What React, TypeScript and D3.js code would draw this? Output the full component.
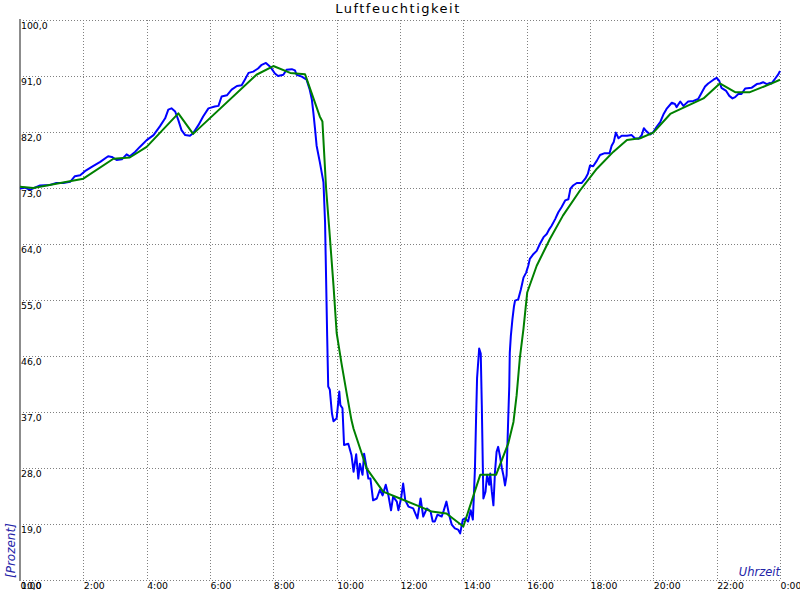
import React from "react";
import * as d3 from "d3";

const title = "Luftfeuchtigkeit";
const yTicks = [10, 19, 28, 37, 46, 55, 64, 73, 82, 91, 100];
const xTickMinutes = [0, 120, 240, 360, 480, 600, 720, 840, 960, 1080, 1200, 1320, 1440];
const xTickLabels = ["0:00", "2:00", "4:00", "6:00", "8:00", "10:00", "12:00", "14:00", "16:00", "18:00", "20:00", "22:00", "0:00"];

// [minute of day, relative humidity %]
const measured: [number, number][] = [
  [0,72.9],[9,73.05],[19,72.7],[28,73.05],[38,73.4],[57,73.5],[69,73.8],[82,73.8],[95,74.0],[104,74.9],
  [114,75.05],[123,75.7],[136,76.4],[152,77.2],[167,78.1],[174,78.0],[183,77.5],[193,77.6],[202,78.4],[208,78.1],
  [218,78.8],[227,79.6],[240,80.7],[253,81.5],[265,82.9],[275,84.2],[281,85.6],[287,85.8],[294,85.3],[300,83.9],
  [306,82.3],[313,81.5],[322,81.4],[328,81.8],[338,83.1],[347,84.5],[357,85.8],[369,86.1],[376,86.2],[382,87.7],
  [392,87.9],[401,88.8],[411,89.4],[420,89.5],[426,90.4],[433,91.5],[442,91.7],[451,92.2],[458,92.8],[466,93.1],
  [474,92.5],[483,91.4],[489,91.0],[499,91.2],[505,92.0],[515,92.1],[521,91.9],[524,91.2],[534,90.9],[543,90.4],
  [549,88.8],[553,87.2],[556,85.0],[559,82.5],[562,79.8],[568,77.2],[575,73.9],[578,67.5],[580,58.3],[582,49.2],
  [584,41.1],[587,40.6],[591,36.8],[594,35.5],[600,36.0],[605,40.3],[607,38.1],[611,37.6],[614,31.7],[622,31.9],
  [628,30.1],[632,27.4],[637,30.2],[641,26.3],[644,28.7],[649,26.9],[652,30.3],[657,27.9],[660,26.3],[664,26.3],
  [669,22.8],[676,23.1],[682,24.5],[687,23.6],[693,25.3],[698,23.6],[703,21.2],[707,23.4],[714,22.6],[717,21.2],
  [722,23.1],[726,25.5],[730,22.8],[736,21.8],[745,21.5],[753,19.9],[759,23.1],[764,20.2],[771,21.5],[778,21.0],
  [782,19.4],[786,19.4],[791,20.5],[799,20.2],[803,21.2],[808,22.6],[813,20.5],[818,18.9],[824,18.3],[830,18.1],
  [834,17.5],[839,19.7],[843,19.9],[849,19.4],[854,21.2],[858,19.7],[860,23.6],[862,27.9],[864,35.4],[866,42.4],
  [870,47.2],[873,46.4],[875,38.1],[877,27.9],[878,23.1],[882,24.2],[885,26.9],[889,25.3],[891,27.1],[894,24.2],
  [897,22.0],[900,27.4],[903,30.6],[906,31.4],[909,30.1],[913,28.0],[916,26.8],[919,25.2],[922,26.8],[923,30.1],
  [925,35.8],[927,41.1],[928,46.5],[930,49.2],[933,51.9],[936,54.0],[938,54.9],[944,55.1],[949,56.7],[954,58.6],
  [959,59.4],[963,60.5],[966,61.6],[973,62.4],[979,62.9],[985,64.0],[992,65.1],[998,65.6],[1003,66.4],[1007,66.9],
  [1014,68.0],[1020,69.1],[1026,69.9],[1033,71.0],[1039,71.2],[1043,72.9],[1048,73.4],[1055,73.8],[1064,73.8],[1071,74.5],
  [1076,75.3],[1080,76.6],[1086,76.5],[1093,77.4],[1099,78.3],[1108,78.6],[1117,78.6],[1121,79.8],[1125,80.4],[1129,81.9],
  [1134,81.0],[1140,81.4],[1150,81.4],[1159,81.5],[1165,81.0],[1172,80.9],[1178,81.5],[1182,82.6],[1187,82.1],[1194,81.6],
  [1200,82.0],[1206,82.8],[1213,83.6],[1219,84.8],[1225,85.7],[1235,86.7],[1241,86.5],[1244,86.0],[1251,86.9],[1257,86.2],
  [1266,86.9],[1276,87.0],[1285,87.3],[1292,88.4],[1298,89.3],[1304,89.8],[1314,90.4],[1320,90.7],[1325,90.2],[1329,89.1],
  [1338,88.6],[1344,87.8],[1350,87.4],[1355,87.6],[1361,88.1],[1367,88.1],[1374,89.0],[1386,89.1],[1396,89.7],[1402,89.8],
  [1408,90.0],[1415,89.7],[1421,89.9],[1424,89.8],[1431,90.6],[1437,91.3],[1440,91.8],
];

const smoothed: [number, number][] = [
  [0,73.2],[25,73.0],[120,74.5],[177,77.7],[208,77.9],[240,79.6],[300,85.0],[328,81.7],[448,91.2],[480,92.6],
  [512,91.5],[540,91.3],[568,84.5],[573,83.7],[580,72.9],[586,66.4],[594,57.3],[600,49.7],[609,44.9],[619,40.0],
  [628,35.7],[632,34.3],[657,27.9],[688,24.2],[720,23.1],[752,22.0],[780,21.0],[808,20.7],[840,18.6],[872,26.9],
  [902,26.9],[925,31.9],[935,35.4],[941,39.7],[947,45.6],[954,50.4],[961,56.2],[979,60.5],[1004,64.8],[1029,68.6],
  [1061,72.6],[1093,76.1],[1124,78.8],[1150,80.7],[1175,81.0],[1200,81.9],[1232,84.9],[1244,85.4],[1295,87.4],[1326,89.8],
  [1355,88.4],[1383,88.4],[1421,89.7],[1440,90.4],
];

const W = 800, H = 600;
const L = 20, R = 780, T = 20, B = 580;
const font = "'DejaVu Sans', sans-serif";

export default function App() {
  const x = d3.scaleLinear().domain([0, 1440]).range([L, R]);
  const y = d3.scaleLinear().domain([10, 100]).range([B, T]);
  const line = d3.line<[number, number]>().x(d => x(d[0])).y(d => y(d[1]));
  const px = (v: number) => Math.round(v) + 0.5;

  return (
    <svg width={W} height={H} style={{ position: "absolute", left: 0, top: 0, background: "#fff" }}>
      <rect x={0} y={0} width={W} height={H} fill="#fff" />
      {yTicks.map(t => (
        <line key={"h" + t} x1={L} x2={R} y1={px(y(t))} y2={px(y(t))} stroke="#808080" strokeWidth={1} strokeDasharray="1,2" shapeRendering="crispEdges" />
      ))}
      {xTickMinutes.slice(1).map(m => (
        <line key={"v" + m} x1={px(x(m))} x2={px(x(m))} y1={T} y2={B} stroke="#808080" strokeWidth={1} strokeDasharray="1,2" shapeRendering="crispEdges" />
      ))}
      <line x1={L} x2={L} y1={T - 1} y2={B + 1} stroke="#8c8c8c" strokeWidth={2} shapeRendering="crispEdges" />
      <path d={line(measured) || ""} fill="none" stroke="#0000ff" strokeWidth={2} strokeLinejoin="round" />
      <path d={line(smoothed) || ""} fill="none" stroke="#008000" strokeWidth={2} strokeLinejoin="round" />
      {yTicks.map(t => (
        <text key={"yl" + t} x={L + 1} y={y(t) + 9} fontFamily={font} fontSize={9.3} fill="#000">
          {t.toFixed(1).replace(".", ",")}
        </text>
      ))}
      {xTickMinutes.map((m, i) => (
        <text key={"xl" + i} x={x(m) + 0.5} y={589} fontFamily={font} fontSize={9.3} fill="#000">
          {xTickLabels[i]}
        </text>
      ))}
      <text x={398} y={13} textAnchor="middle" fontFamily={font} fontSize={13} letterSpacing={1.5} fill="#000">
        {title}
      </text>
      <text x={780} y={576} textAnchor="end" fontFamily={font} fontSize={11.5} fontStyle="italic" fill="#2323a8">
        Uhrzeit
      </text>
      <text transform="translate(14.5,578) rotate(-90)" fontFamily={font} fontSize={12} fontStyle="italic" fill="#2323a8">
        [Prozent]
      </text>
    </svg>
  );
}
